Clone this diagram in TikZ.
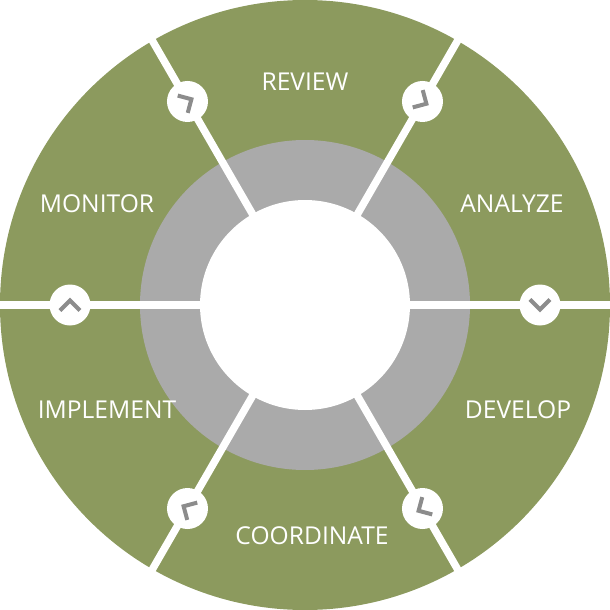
\documentclass[tikz,border=0pt]{standalone}
\usepackage{fontspec}
\setmainfont{Open Sans}
\definecolor{olive}{HTML}{8C9A5E}
\definecolor{ringgray}{HTML}{AAAAAA}
\definecolor{arrowgray}{HTML}{8C8C8C}
\begin{document}
\begin{tikzpicture}[label text/.style={text=white,font=\fontsize{14}{16}\selectfont},
                    step mark/.style={circle,fill=white,minimum size=0.82cm,inner sep=0pt}]
  \useasboundingbox (-6.1,-6.1) rectangle (6.1,6.1);
  \fill[olive] (0,0) circle (6.1);
  \fill[ringgray] (0,0) circle (3.3);
  \fill[white] (0,0) circle (2.1);

  % separators and step marks
  \foreach \a in {0,60,...,300} {
    \draw[white,line width=0.15cm] (\a:2.0) -- (\a:6.3);
    \node[step mark] (m\a) at (\a:4.7) {};
    \draw[arrowgray,line width=0.08cm,rotate around={\a:(m\a)}]
      ([shift={(-0.2,0.11)}]m\a.center) -- ([shift={(0,-0.09)}]m\a.center)
      -- ([shift={(0.2,0.11)}]m\a.center);
  }

  \node[label text] (review) at (0,4.46) {REVIEW};
  \node[label text] (analyze) at (4.14,2.02) {ANALYZE};
  \node[label text] (develop) at (4.26,-2.1) {DEVELOP};
  \node[label text] (coordinate) at (0.14,-4.62) {COORDINATE};
  \node[label text] (implement) at (-3.96,-2.1) {IMPLEMENT};
  \node[label text] (monitor) at (-4.16,2.02) {MONITOR};
\end{tikzpicture}
\end{document}
